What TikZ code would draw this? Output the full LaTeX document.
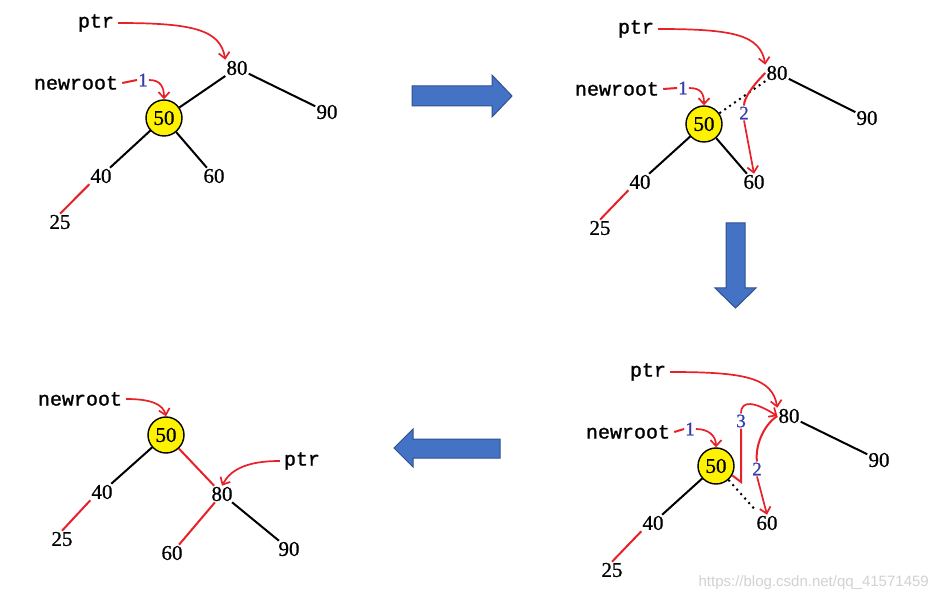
\documentclass[tikz,border=0pt]{standalone}
\usepackage{xcolor}
\usepackage{fontspec}
\setmainfont{Liberation Serif}
\newfontfamily\tagfont[FakeBold=1.2]{Liberation Mono}
\newfontfamily\digitfont[FakeBold=0.8]{Liberation Serif}
\newfontfamily\markfont{Liberation Sans}
\usepackage{tikz}
\usetikzlibrary{arrows.meta}
\definecolor{arrowred}{RGB}{232,32,40}
\definecolor{stepblue}{RGB}{55,60,170}
\definecolor{blockblue}{RGB}{68,114,196}
\definecolor{blockedge}{RGB}{47,82,143}
\definecolor{markgray}{RGB}{210,210,210}
\tikzset{rotation/.style={
    x=1pt, y=-1pt,
    num/.style={font=\digitfont\fontsize{21}{21}\selectfont, inner sep=1pt},
    hub/.style={circle, draw=black, line width=1.4pt, fill=yellow, minimum size=36pt, inner sep=0pt, font=\digitfont\fontsize{21}{21}\selectfont},
    tag/.style={font=\tagfont\fontsize{20}{20}\selectfont, inner xsep=4pt, inner ysep=1pt},
    stepno/.style={font=\digitfont\fontsize{19}{19}\selectfont, text=stepblue, inner sep=1pt},
    link/.style={line width=2pt},
    redlink/.style={link, draw=arrowred},
    oldlink/.style={link, dash pattern=on 2pt off 4pt},
    pointer/.style={line width=1.7pt, draw=arrowred, -{Straight Barb[length=6pt, width=11pt]}},
    bigarrow/.style={fill=blockblue, draw=blockedge, line width=1pt},
    watermark/.style={font=\markfont\fontsize{15}{15}\selectfont, text=markgray, inner sep=0pt},
}}

\begin{document}
\begin{tikzpicture}[rotation]
    \path[use as bounding box, fill=white] (0,0) rectangle (937,601);

    % step 0: before the rotation
    \node[tag] (aptr) at (96,23) {ptr};
    \node[tag] (aroot) at (76,83) {newroot};
    \node[stepno] (aone) at (143,80) {1};
    \node[num] (a80) at (237,68) {80};
    \node[num] (a90) at (327,112) {90};
    \node[hub] (a50) at (164,118) {50};
    \node[num] (a40) at (101,176) {40};
    \node[num] (a60) at (214,176) {60};
    \node[num] (a25) at (60,222) {25};
    \draw[link] (a80) -- (a50);
    \draw[link] (a80) -- (a90);
    \draw[link] (a50) -- (a40);
    \draw[link] (a50) -- (a60);
    \draw[redlink] (a40.south west) -- (a25.north);
    \draw[pointer] (aptr.east) .. controls +(75,0) and +(-5,-30) .. (a80.north west);
    \draw[redlink] (aroot.east) -- (aone.west);
    \draw[pointer] (aone.east) .. controls +(12,0) and +(0,-12) .. (a50.north);

    % step 1-2: move the right child of newroot
    \node[tag] (bptr) at (636,29) {ptr};
    \node[tag] (broot) at (617,89) {newroot};
    \node[stepno] (bone) at (683,88) {1};
    \node[stepno] (btwo) at (744,113) {2};
    \node[num] (b80) at (777,73) {80};
    \node[num] (b90) at (867,118) {90};
    \node[hub] (b50) at (704,124) {50};
    \node[num] (b40) at (640,182) {40};
    \node[num] (b60) at (754,182) {60};
    \node[num] (b25) at (600,228) {25};
    \draw[oldlink] (b80) -- (b50);
    \draw[link] (b80) -- (b90);
    \draw[link] (b50) -- (b40);
    \draw[link] (b50) -- (b60);
    \draw[redlink] (b40.south west) -- (b25.north);
    \draw[pointer] (bptr.east) .. controls +(75,0) and +(-5,-30) .. (b80.north west);
    \draw[redlink] (broot.east) -- (bone.west);
    \draw[pointer] (bone.east) .. controls +(12,0) and +(0,-12) .. (b50.north);
    \draw[redlink] (b80.west) .. controls +(-12,12) and +(0,-8) .. (btwo.north);
    \draw[pointer] (btwo.south) -- (b60.north);

    % step 3: ptr becomes the right child
    \node[tag] (cptr) at (648,372) {ptr};
    \node[tag] (croot) at (628,432) {newroot};
    \node[stepno] (cone) at (690,429) {1};
    \node[stepno] (ctwo) at (757,469) {2};
    \node[stepno] (cthree) at (741,421) {3};
    \node[num] (c80) at (789,416) {80};
    \node[num] (c90) at (879,460) {90};
    \node[hub] (c50) at (716,466) {50};
    \node[num] (c40) at (653,523) {40};
    \node[num] (c60) at (767,523) {60};
    \node[num] (c25) at (612,570) {25};
    \coordinate (cbend) at (741,482);
    \draw[link] (c80) -- (c90);
    \draw[link] (c50) -- (c40);
    \draw[oldlink, shorten >=6pt] (c50) -- (c60);
    \draw[redlink] (c40.south west) -- (c25.north);
    \draw[pointer] (cptr.east) .. controls +(75,0) and +(-5,-30) .. (c80.north west);
    \draw[redlink] (croot.east) -- (cone.west);
    \draw[pointer] (cone.east) .. controls +(12,0) and +(0,-12) .. (c50.north);
    \draw[redlink] (c80.west) .. controls +(-15,10) and +(-2,-14) .. (ctwo.north);
    \draw[pointer] (ctwo.south) -- (c60.north);
    \draw[redlink] (c50.-30) -- (cbend) -- (cthree.south);
    \draw[pointer] (cthree.north) .. controls +(0,-14) and +(-22,-14) .. (c80.west);

    % result
    \node[tag] (droot) at (80,399) {newroot};
    \node[tag] (dptr) at (302,461) {ptr};
    \node[hub] (d50) at (166,435) {50};
    \node[num] (d40) at (102,492) {40};
    \node[num] (d80) at (222,494) {80};
    \node[num] (d25) at (62,539) {25};
    \node[num] (d60) at (172,553) {60};
    \node[num] (d90) at (289,549) {90};
    \draw[link] (d50) -- (d40);
    \draw[redlink] (d50) -- (d80);
    \draw[redlink] (d80) -- (d60);
    \draw[link] (d80) -- (d90);
    \draw[redlink] (d40.south west) -- (d25.north);
    \draw[pointer] (droot.east) .. controls +(25,0) and +(-3,-12) .. (d50.north);
    \draw[pointer] (dptr.west) .. controls +(-35,0) and +(8,-15) .. (d80.north);

    % block arrows between the steps
    \draw[bigarrow] (412,86) -- (492,86) -- (492,75) -- (512,96) -- (492,117) -- (492,106) -- (412,106) -- cycle;
    \draw[bigarrow] (726,223) -- (745,223) -- (745,288) -- (756,288) -- (735.5,308) -- (715,288) -- (726,288) -- cycle;
    \draw[bigarrow] (500,439) -- (413,439) -- (413,429) -- (394,448) -- (413,467) -- (413,458) -- (500,458) -- cycle;

    \node[watermark, anchor=east] (mark) at (929,583) {https://blog.csdn.net/qq\_41571459};
\end{tikzpicture}
\end{document}
